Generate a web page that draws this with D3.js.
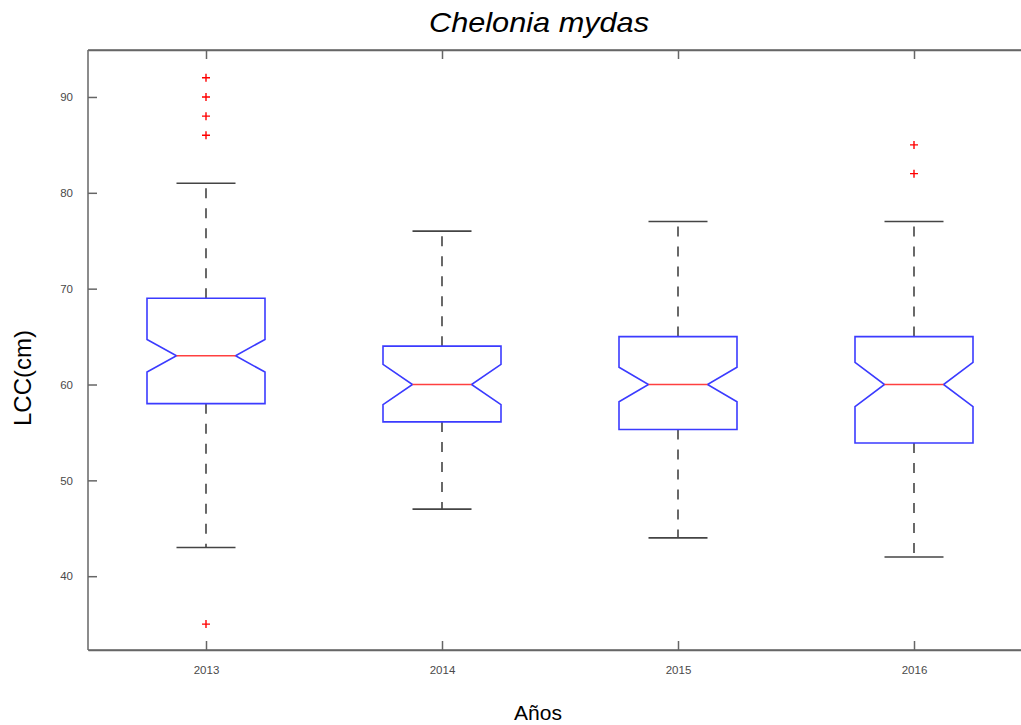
<!DOCTYPE html>
<html>
<head>
<meta charset="utf-8">
<script src="https://cdn.jsdelivr.net/npm/d3@7"></script>
<style>
  body { margin: 0; background: #fff; }
  text { font-family: "Liberation Sans", Arial, sans-serif; }
</style>
</head>
<body>
<div id="chart"></div>
<script>
// data
var years = ["2013", "2014", "2015", "2016"];
var q1 = [58, 56.1, 55.3, 53.9];
var median = [63, 60, 60, 60];
var q3 = [69, 64, 65, 65];
var notchLo = [61.3, 57.9, 58.2, 57.7];
var notchHi = [64.7, 62.1, 61.8, 62.3];
var whiskLo = [43, 47, 44, 42];
var whiskHi = [81, 76, 77, 77];
var outliers = [[92, 90, 88, 86, 35], [], [], [85, 82]];
var yTicks = [40, 50, 60, 70, 80, 90];

var width = 1021, height = 725;
var plotLeft = 88, plotTop = 50, plotBottom = 650;

var svg = d3.select("#chart")
    .append("svg")
    .attr("width", width)
    .attr("height", height);

var x = d3.scaleLinear()
    .domain([0.5, 4.5])
    .range([plotLeft, plotLeft + 4 * 236]);

var y = d3.scaleLinear()
    .domain([32.3, 94.9])
    .range([plotBottom, plotTop]);

var boxW = x(1.25) - x(1);      // half box width
var capW = boxW / 2;
var notchIn = boxW / 2;

// axes box
var axisColor = "#666";
svg.append("line").attr("x1", plotLeft).attr("x2", width + 20).attr("y1", plotTop).attr("y2", plotTop)
    .attr("stroke", axisColor).attr("stroke-width", 1.5);
svg.append("line").attr("x1", plotLeft).attr("x2", width + 20).attr("y1", plotBottom).attr("y2", plotBottom)
    .attr("stroke", axisColor).attr("stroke-width", 1.5);

// y axis with inward ticks
var yAxis = svg.append("g")
    .attr("transform", "translate(" + plotLeft + ",0)")
    .call(d3.axisLeft(y).tickValues(yTicks).tickSizeInner(-9).tickSizeOuter(0).tickPadding(15));
// x axis bottom and top
var xAxis = svg.append("g")
    .attr("transform", "translate(0," + plotBottom + ")")
    .call(d3.axisBottom(x).tickValues([1, 2, 3, 4]).tickFormat(function (d) { return years[d - 1]; })
        .tickSizeInner(-9).tickSizeOuter(0).tickPadding(16));
var xTop = svg.append("g")
    .attr("transform", "translate(0," + plotTop + ")")
    .call(d3.axisTop(x).tickValues([1, 2, 3, 4]).tickFormat("").tickSizeInner(-9).tickSizeOuter(0));

[yAxis, xAxis, xTop].forEach(function (g) {
    g.select(".domain").attr("stroke", axisColor).attr("stroke-width", 1.5);
    g.selectAll(".tick line").attr("stroke", axisColor).attr("stroke-width", 1.5);
    g.selectAll(".tick text").attr("fill", "#4a4a4a").attr("font-size", 11.5)
        .style("font-family", "'Liberation Sans', Arial, sans-serif");
});
yAxis.select(".domain").attr("d", "M0," + plotTop + "V" + plotBottom);

var idx = d3.range(years.length);

// whiskers (dashed)
var g = svg.append("g");
idx.forEach(function (i) {
    var cx = x(i + 1);
    g.append("line").attr("x1", cx).attr("x2", cx).attr("y1", y(q3[i])).attr("y2", y(whiskHi[i]))
        .attr("stroke", "#444").attr("stroke-width", 1.6).attr("stroke-dasharray", "10,10");
    g.append("line").attr("x1", cx).attr("x2", cx).attr("y1", y(q1[i])).attr("y2", y(whiskLo[i]))
        .attr("stroke", "#444").attr("stroke-width", 1.6).attr("stroke-dasharray", "10,10");
    [whiskLo[i], whiskHi[i]].forEach(function (v) {
        g.append("line").attr("x1", cx - capW).attr("x2", cx + capW).attr("y1", y(v)).attr("y2", y(v))
            .attr("stroke", "#444").attr("stroke-width", 1.6);
    });
});

// notched boxes
g.selectAll("path.box")
    .data(idx)
    .enter()
    .append("path")
    .attr("class", "box")
    .attr("d", function (i) {
        var cx = x(i + 1), l = cx - boxW, r = cx + boxW;
        return "M" + l + "," + y(q3[i]) +
            "L" + r + "," + y(q3[i]) +
            "L" + r + "," + y(notchHi[i]) +
            "L" + (r - notchIn) + "," + y(median[i]) +
            "L" + r + "," + y(notchLo[i]) +
            "L" + r + "," + y(q1[i]) +
            "L" + l + "," + y(q1[i]) +
            "L" + l + "," + y(notchLo[i]) +
            "L" + (l + notchIn) + "," + y(median[i]) +
            "L" + l + "," + y(notchHi[i]) + "Z";
    })
    .attr("fill", "none")
    .attr("stroke", "#3b3bff")
    .attr("stroke-width", 1.6);

// medians
g.selectAll("line.median")
    .data(idx)
    .enter()
    .append("line")
    .attr("x1", function (i) { return x(i + 1) - boxW + notchIn; })
    .attr("x2", function (i) { return x(i + 1) + boxW - notchIn; })
    .attr("y1", function (i) { return y(median[i]); })
    .attr("y2", function (i) { return y(median[i]); })
    .attr("stroke", "#ff4040")
    .attr("stroke-width", 1.6);

// outliers as red plus signs
var pts = [];
idx.forEach(function (i) { outliers[i].forEach(function (v) { pts.push({ i: i, v: v }); }); });
g.selectAll("path.out")
    .data(pts)
    .enter()
    .append("path")
    .attr("d", function (d) {
        var cx = x(d.i + 1), cy = y(d.v), s = 4;
        return "M" + (cx - s) + "," + cy + "H" + (cx + s) + "M" + cx + "," + (cy - s) + "V" + (cy + s);
    })
    .attr("stroke", "#ff0000")
    .attr("stroke-width", 1.4)
    .attr("fill", "none");

// titles
svg.append("text")
    .attr("x", 539).attr("y", 32)
    .attr("text-anchor", "middle")
    .attr("font-size", 28)
    .attr("font-style", "italic")
    .attr("textLength", 220)
    .attr("lengthAdjust", "spacingAndGlyphs")
    .text("Chelonia mydas");

svg.append("text")
    .attr("transform", "translate(31,378) rotate(-90)")
    .attr("text-anchor", "middle")
    .attr("font-size", 24)
    .text("LCC(cm)");

svg.append("text")
    .attr("x", 538).attr("y", 720)
    .attr("text-anchor", "middle")
    .attr("font-size", 21)
    .text("Años");
</script>
</body>
</html>
